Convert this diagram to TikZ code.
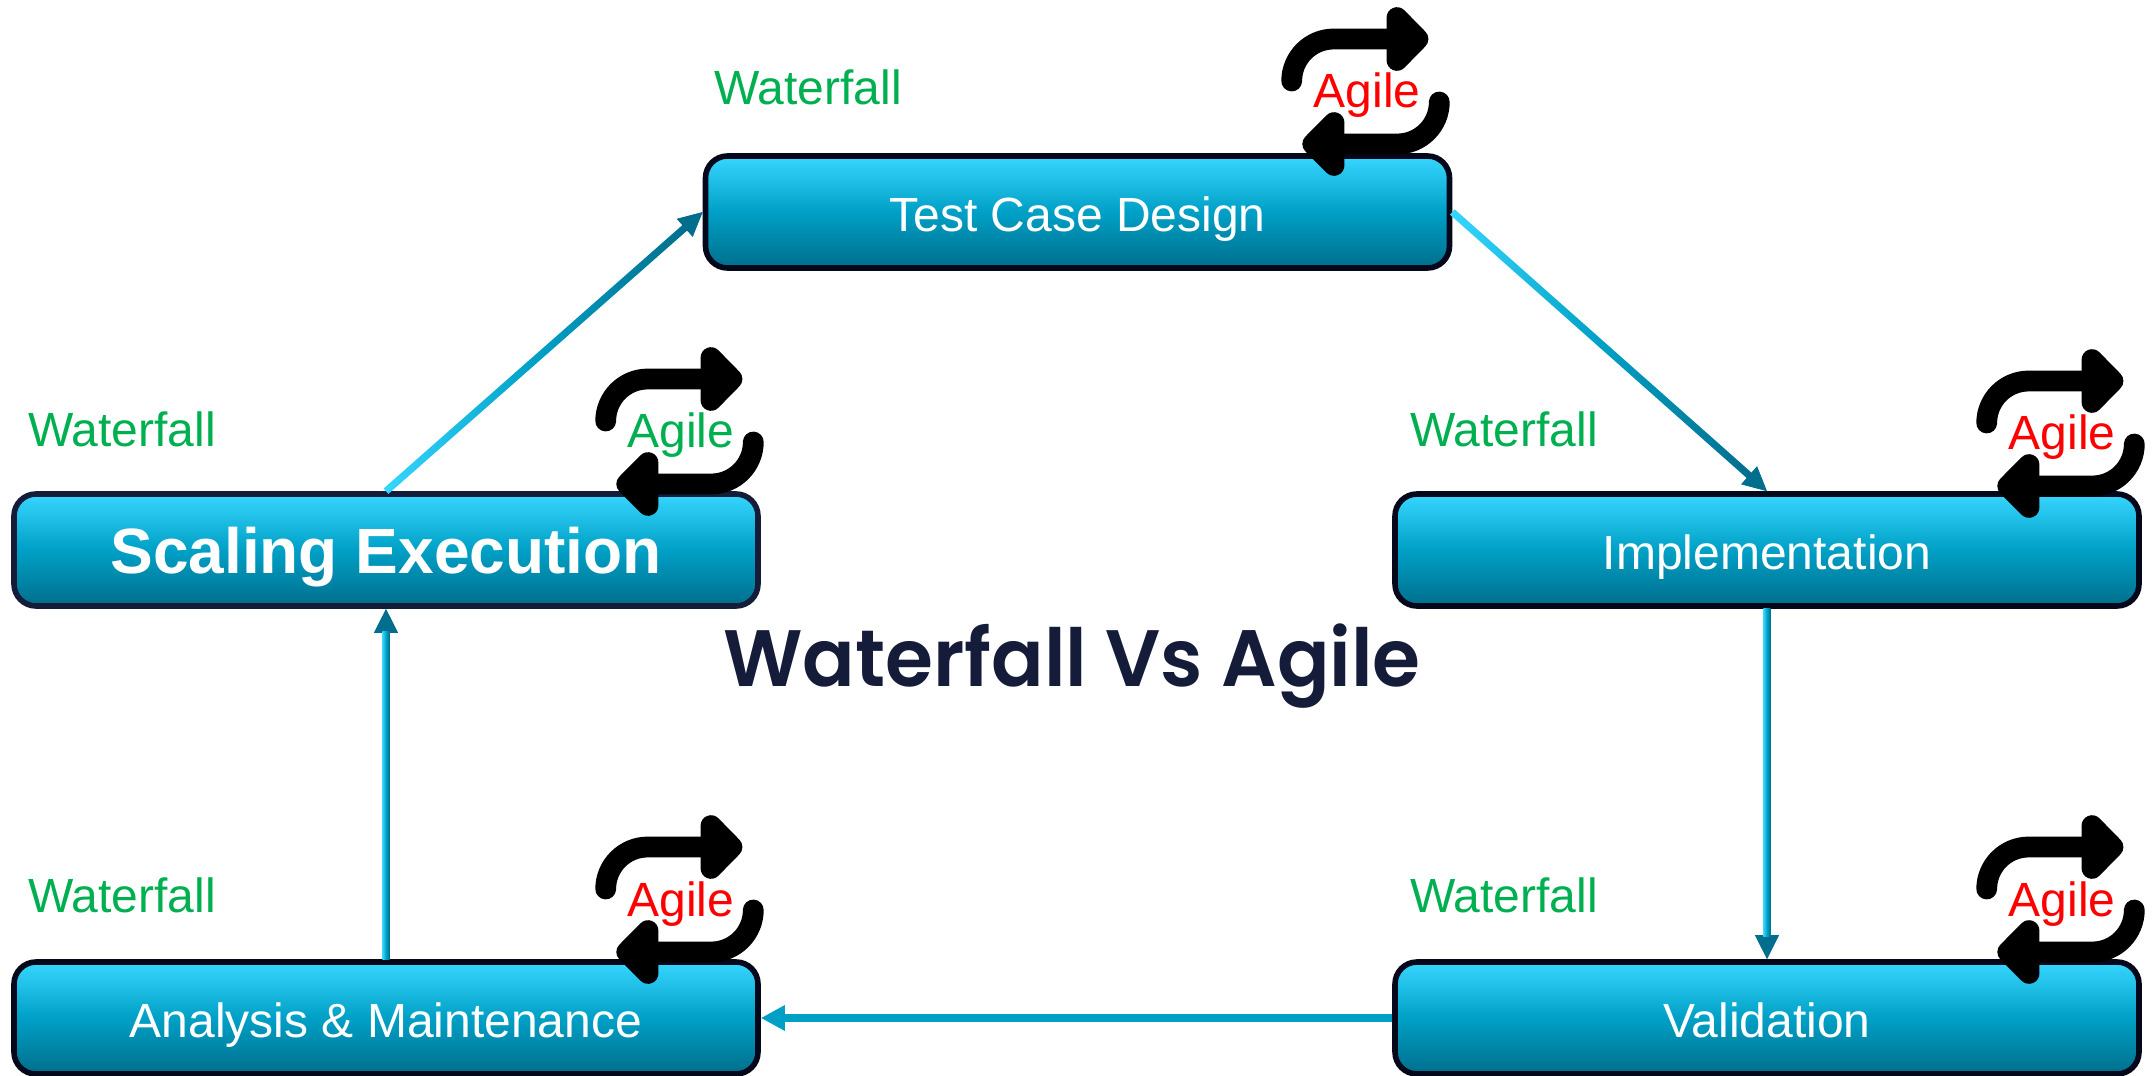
\documentclass[tikz,border=0pt]{standalone}
\usepackage{fontspec}
\setmainfont{Liberation Sans}
\newfontfamily\titlefont[BoldFont={Poppins SemiBold},BoldFeatures={FakeStretch=0.97}]{Poppins}
\usetikzlibrary{arrows.meta,calc}
\definecolor{gradtop}{HTML}{36D6FF}
\definecolor{gradmid}{HTML}{00A0C6}
\definecolor{gradbot}{HTML}{006E8C}
\definecolor{boxline}{HTML}{141C3A}
\definecolor{boxdark}{HTML}{05081A}
\definecolor{wfgreen}{HTML}{00B050}
\tikzset{
  x=0.5pt,y=-0.5pt,
  stage/.style={draw=boxdark,line width=2.8pt,rounded corners=11pt,
    top color=gradtop,bottom color=gradbot,middle color=gradmid,
    minimum width=372pt,minimum height=56pt,inner sep=0pt,text=white,
    text height=19.6pt,text depth=0pt,font=\fontsize{24pt}{28pt}\selectfont},
  wf/.style={text=wfgreen,inner sep=0pt,anchor=base west,font=\fontsize{24pt}{28pt}\selectfont},
  agile/.style={inner sep=0pt,anchor=base,font=\fontsize{24pt}{28pt}\selectfont},
  loopline/.style={draw=black,line width=10.4pt,line cap=round,line join=round},
  loophead/.style={draw=black,fill=black,line width=10.4pt,line join=round},
  pics/loopicon/.style={code={
    \draw[loopline] (41.7,81) .. controls (41.7,57.8) and (60.5,39) .. (83.7,39) -- (147,39);
    \draw[loophead] (168,39) -- (147,17.6) -- (147,60.4) -- cycle;
    \draw[loopline] (189.3,102) .. controls (189.3,125.2) and (170.5,144) .. (147.3,144) -- (84,144);
    \draw[loophead] (62.7,144) -- (84,122.6) -- (84,165.4) -- cycle;
  }}
}
\newcommand{\gradlink}[2]{%
  \draw[gradbot,line width=0.4pt,-{Triangle[length=12pt,width=12pt,color=gradbot]}] (#1) -- (#2);
  \path let \p1=($(#2)-(#1)$) in \pgfextra{%
    \pgfmathsetmacro\lkang{atan2(\y1,\x1)}\pgfmathsetmacro\lklen{veclen(\x1,\y1)-11.5}%
    \global\let\lkangle\lkang\global\let\lklength\lklen};
  \shade[shift={(#1)},rotate=\lkangle,left color=gradtop,right color=gradbot,middle color=gradmid]
    (0pt,-1.8pt) rectangle (\lklength pt,1.8pt);
}
\begin{document}
\begin{tikzpicture}
\useasboundingbox (0,0) rectangle (2153,1076);
\node[stage] (test) at (1077.5,212) {Test Case Design};
\node[stage,draw=boxline,text height=23pt,font=\fontsize{32pt}{38pt}\selectfont\bfseries] (scaling) at (386,550) {Scaling Execution};
\node[stage] (impl) at (1767,550) {Implementation};
\node[stage] (analysis) at (386,1018) {Analysis \& Maintenance};
\node[stage] (valid) at (1767,1018) {Validation};
\gradlink{scaling.north}{test.west}
\gradlink{test.east}{impl.north}
\gradlink{impl.south}{valid.north}
\draw[gradmid,line width=3.6pt,-{Triangle[length=12pt,width=12pt]}] (valid.west) -- (analysis.east);
\gradlink{analysis.north}{scaling.south}
\pic at (1250,0) {loopicon};
\pic at (564,340) {loopicon};
\pic at (1945,342) {loopicon};
\pic at (564,808) {loopicon};
\pic at (1945,808) {loopicon};
\node[wf] (w1) at (714,104) {Waterfall};
\node[wf] (w2) at (28,446) {Waterfall};
\node[wf] (w3) at (1410,446) {Waterfall};
\node[wf] (w4) at (28,912) {Waterfall};
\node[wf] (w5) at (1410,912) {Waterfall};
\node[agile,text=red] (a1) at (1367,107) {Agile};
\node[agile,text=wfgreen] (a2) at (681,447) {Agile};
\node[agile,text=red] (a3) at (2062,449) {Agile};
\node[agile,text=red] (a4) at (681,916) {Agile};
\node[agile,text=red] (a5) at (2062,916) {Agile};
\node[text=boxline,inner sep=0pt,anchor=base,font=\fontsize{40pt}{46pt}\titlefont\bfseries] (title) at (1072,686) {Waterfall Vs Agile};
\end{tikzpicture}
\end{document}
